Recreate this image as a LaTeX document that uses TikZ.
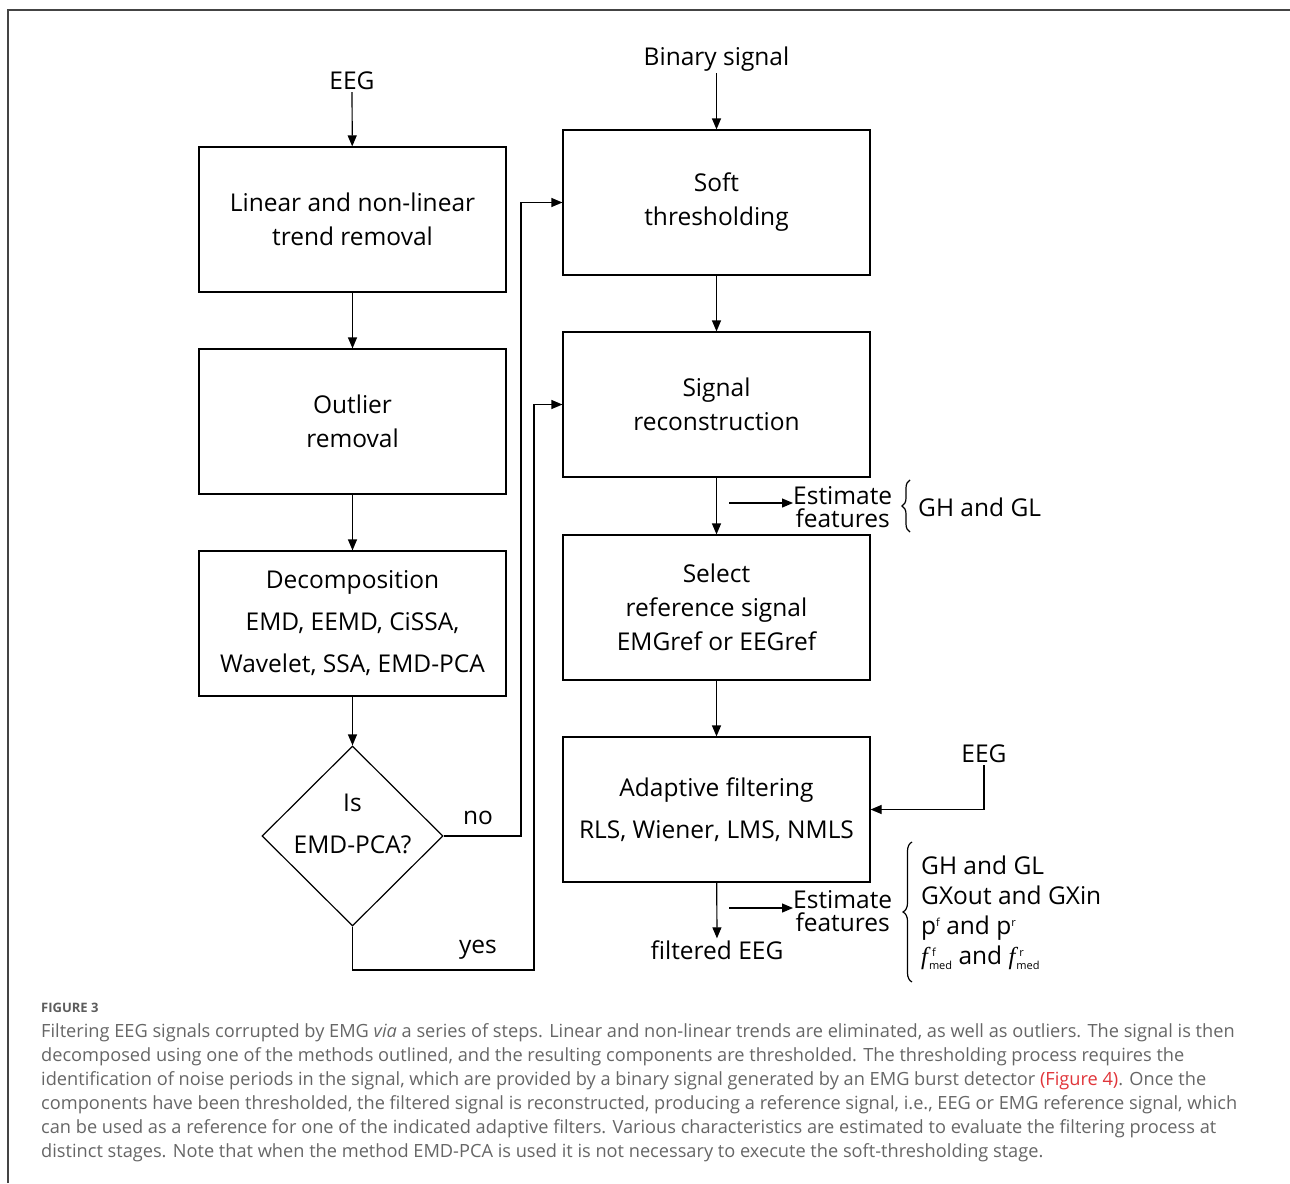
\documentclass[tikz,border=0pt]{standalone}
\usepackage{fontspec}
\setmainfont{Open Sans}
\newfontfamily\capfont{Open Sans}
\newfontfamily\serfont{Liberation Serif}
\usetikzlibrary{arrows.meta,shapes.geometric,decorations.pathreplacing,calc}
\definecolor{capgray}{HTML}{666666}
\definecolor{figred}{HTML}{E0353A}
\definecolor{framegray}{HTML}{444444}
\newcommand{\fmed}[1]{{\serfont\itshape f}\kern1pt\rlap{\kern3pt\raisebox{8pt}{\fontsize{11}{11}\selectfont #1}}\raisebox{-5pt}{\fontsize{11}{11}\selectfont med}}
\begin{document}
\begin{tikzpicture}[x=1pt,y=-1pt,
  txt/.style={font=\fontsize{24.5}{34}\selectfont, align=center, inner sep=2pt},
  boxn/.style={draw, line width=1.2pt, minimum width=307pt, minimum height=145pt, align=center, inner sep=0pt, font=\fontsize{24.5}{34}\selectfont},
  wide/.style={font=\fontsize{24.5}{42}\selectfont},
  arr/.style={line width=1.2pt, -{Triangle[length=11pt,width=9pt]}},
  ln/.style={line width=1.2pt},
  captxt/.style={anchor=base west, inner sep=0pt, font=\capfont\fontsize{18.2}{24}\selectfont, text=capgray}
]
\useasboundingbox (0,0) rectangle (1290,1183);
% frame
\draw[framegray, line width=1.5pt] (8,1183) -- (8,10) -- (1290,10);

% left column
\node[txt] (eegA) at (352,81) {EEG};
\node[boxn] (b1) at (352.5,219.5) {Linear and non-linear\\trend removal};
\node[boxn] (b2) at (352.5,421.5) {Outlier\\removal};
\node[boxn, wide] (b3) at (352.5,623.5) {Decomposition\\EMD, EEMD, CiSSA,\\Wavelet, SSA, EMD-PCA};
\node[draw, diamond, line width=1.2pt, minimum width=181pt, minimum height=180pt, inner sep=0pt] (dia) at (352.5,836) {};
\node[txt, font=\fontsize{24.5}{42}\selectfont] (diatxt) at (352.5,824) {Is\\EMD-PCA?};

% right column
\node[txt] (bin) at (716.5,59) {Binary signal};
\node[boxn] (bA) at (716.5,202.5) {Soft\\thresholding};
\node[boxn] (bB) at (716.5,404.5) {Signal\\reconstruction};
\node[boxn] (bC) at (716.5,607.5) {Select\\reference signal\\EMGref or EEGref};
\node[boxn, wide] (bD) at (716.5,809.5) {Adaptive filtering\\RLS, Wiener, LMS, NMLS};
\node[txt] (filt) at (717,950) {filtered EEG};
\node[txt] (eegB) at (984,754) {EEG};

% labels
\node[txt] (no) at (478,818) {no};
\node[txt] (yes) at (478,950) {yes};

% estimate features 1
\coordinate (s1) at (729,503);
\node[txt, font=\fontsize{24.5}{23}\selectfont, inner sep=0pt, anchor=west] (est1) at (793,507) {Estimate\\features};
\node[txt, anchor=west, inner sep=0pt] (gh1) at (918,507) {GH and GL};
\draw[ln, decorate, decoration={brace, amplitude=8pt}] (910,532) -- (910,480);
\draw[arr] (s1) -- (est1.west |- s1);

% estimate features 2
\coordinate (s2) at (729,908);
\node[txt, font=\fontsize{24.5}{23}\selectfont, inner sep=0pt, anchor=west] (est2) at (793,911) {Estimate\\features};
\draw[ln, decorate, decoration={brace, amplitude=9pt}] (912,982) -- (912,842);
\node[anchor=west, align=left, inner sep=0pt, font=\fontsize{24.5}{30}\selectfont] (list) at (921,913)
  {GH and GL\\GXout and GXin\\p\raisebox{8pt}{\fontsize{11}{11}\selectfont f} and p\raisebox{8pt}{\fontsize{11}{11}\selectfont r}\\\fmed{f} and \fmed{r}};
\draw[arr] (s2) -- (est2.west |- s2);

% connectors
\draw[arr] (eegA) -- (b1);
\draw[arr] (b1) -- (b2);
\draw[arr] (b2) -- (b3);
\draw[arr] (b3) -- (dia);
\draw[arr] (bin) -- (bA);
\draw[arr] (bA) -- (bB);
\draw[arr] (bB) -- (bC);
\draw[arr] (bC) -- (bD);
\draw[arr] (bD) -- (filt);
\coordinate (nob) at (521,836);
\draw[arr] (dia.east) -- (nob) |- (bA.west);
\coordinate (yesb) at (534,970);
\draw[arr] (dia.south) |- (yesb) |- (bB.west);
\draw[arr] (eegB) |- (bD.east);

% caption
\node[anchor=base west, inner sep=0pt, font=\capfont\bfseries\fontsize{13}{13}\selectfont, text=capgray!90!black] (fig) at (41,1012) {FIGURE 3};
\node[captxt] (c1) at (41,1037) {Filtering EEG signals corrupted by EMG \textit{via} a series of steps. Linear and non-linear trends are eliminated, as well as outliers. The signal is then};
\node[captxt] (c2) at (41,1061) {decomposed using one of the methods outlined, and the resulting components are thresholded. The thresholding process requires the};
\node[captxt] (c3) at (41,1085) {identification of noise periods in the signal, which are provided by a binary signal generated by an EMG burst detector \textcolor{figred}{(Figure 4)}. Once the};
\node[captxt] (c4) at (41,1109) {components have been thresholded, the filtered signal is reconstructed, producing a reference signal, i.e., EEG or EMG reference signal, which};
\node[captxt] (c5) at (41,1133) {can be used as a reference for one of the indicated adaptive filters. Various characteristics are estimated to evaluate the filtering process at};
\node[captxt] (c6) at (41,1157) {distinct stages. Note that when the method EMD-PCA is used it is not necessary to execute the soft-thresholding stage.};
\end{tikzpicture}
\end{document}
